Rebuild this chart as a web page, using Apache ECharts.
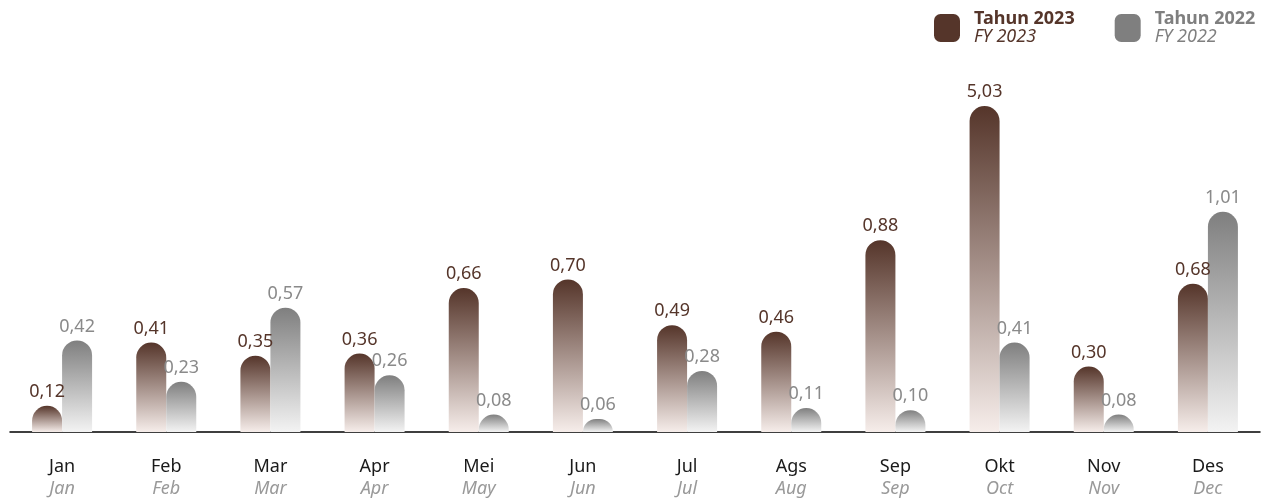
<!DOCTYPE html>
<html><head><meta charset="utf-8">
<script src="https://cdn.jsdelivr.net/npm/echarts@6/dist/echarts.min.js"></script>
<style>html,body{margin:0;padding:0;background:#fff}#c{width:1277px;height:501px}</style>
</head><body><div id="c"></div>
<script>
const categories = ['Jan','Feb','Mar','Apr','Mei','Jun','Jul','Ags','Sep','Okt','Nov','Des'];
const categoriesEn = ['Jan','Feb','Mar','Apr','May','Jun','Jul','Aug','Sep','Oct','Nov','Dec'];
const values2023 = [0.12,0.41,0.35,0.36,0.66,0.70,0.49,0.46,0.88,5.03,0.30,0.68];
const values2022 = [0.42,0.23,0.57,0.26,0.08,0.06,0.28,0.11,0.10,0.41,0.08,1.01];
const seriesNames = ['Tahun 2023','Tahun 2022'];
const seriesSub = ['FY 2023','FY 2022'];

const FONT = 'Noto Sans';
const brown = '#55352a', gray = '#7f7f7f';
const fmt = v => v.toFixed(2).replace('.', ',');
function grad(top, bottom){
  return new echarts.graphic.LinearGradient(0,0,0,1,[{offset:0,color:top},{offset:1,color:bottom}]);
}
const chart = echarts.init(document.getElementById('c'));
chart.setOption({
  animation:false,
  textStyle:{fontFamily:FONT},
  legend:{
    left:929, top:5, itemWidth:26, itemHeight:28, itemGap:40, icon:'roundRect',
    data:[{name:seriesNames[0], itemStyle:{color:brown}},{name:seriesNames[1], itemStyle:{color:gray}}],
    formatter: n => n===seriesNames[0] ? '{a|'+n+'}\n{b|'+seriesSub[0]+'}' : '{c|'+n+'}\n{d|'+seriesSub[1]+'}',
    textStyle:{rich:{
      a:{fontFamily:FONT,fontSize:18,fontWeight:'bold',color:brown,lineHeight:18,padding:[0,0,0,9]},
      b:{fontFamily:FONT,fontSize:18,fontStyle:'italic',color:brown,lineHeight:18,padding:[0,0,0,9]},
      c:{fontFamily:FONT,fontSize:18,fontWeight:'bold',color:gray,lineHeight:18,padding:[0,0,0,9]},
      d:{fontFamily:FONT,fontSize:18,fontStyle:'italic',color:gray,lineHeight:18,padding:[0,0,0,9]}
    }}
  },
  grid:{left:10,right:17,top:69,bottom:69,containLabel:false},
  xAxis:{
    type:'category', data:categories,
    axisLine:{lineStyle:{color:'#000',width:1.5}},
    axisTick:{show:false},
    axisLabel:{margin:24, interval:0,
      formatter:(v,i)=>'{m|'+v+'}\n{e|'+categoriesEn[i]+'}',
      rich:{
        m:{fontFamily:FONT,fontSize:18,color:'#1a1a1a',lineHeight:22},
        e:{fontFamily:FONT,fontSize:18,fontStyle:'italic',color:'#999',lineHeight:22}
      }}
  },
  yAxis:{
    type:'value', min:0, max:5.2, show:false, splitLine:{show:false},
    breaks:[{start:1.2,end:4.735,gap:0}],
    breakArea:{show:false}
  },
  series:[
    {name:seriesNames[0], type:'bar', data:values2023, barWidth:30, barGap:'0%',
     itemStyle:{color:grad('#55352a','#f6edea'), borderRadius:[15,15,0,0]},
     label:{show:true,position:'top',distance:5,fontFamily:FONT,fontSize:18,color:brown,formatter:p=>fmt(p.value)}},
    {name:seriesNames[1], type:'bar', data:values2022, barWidth:30, barGap:'0%',
     itemStyle:{color:grad('#7f7f7f','#f3f3f3'), borderRadius:[15,15,0,0]},
     label:{show:true,position:'top',distance:5,fontFamily:FONT,fontSize:18,color:'#8a8a8a',formatter:p=>fmt(p.value)}}
  ]
});
</script></body></html>
